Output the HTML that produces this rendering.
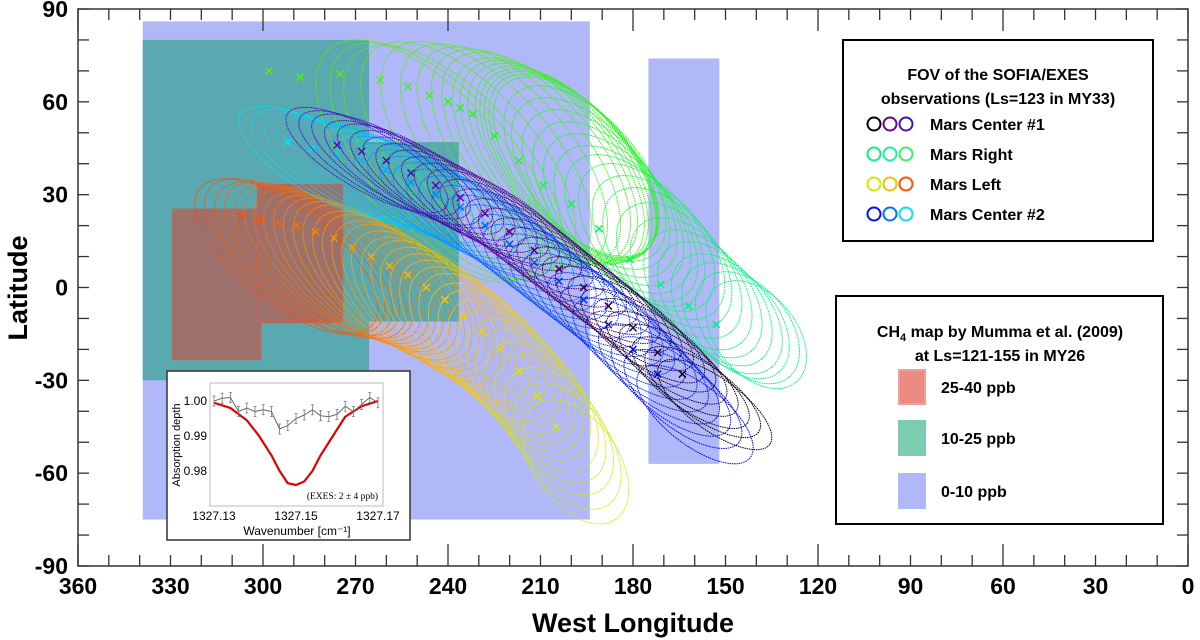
<!DOCTYPE html>
<html><head><meta charset="utf-8"><style>
body{margin:0;background:#fff}
svg{display:block;font-family:"Liberation Sans",sans-serif}
</style></head><body>
<svg id="chart" width="1200" height="640" viewBox="0 0 1200 640">
<g id="regions"></g>
<g id="fov"></g>
<g id="axes"></g>
<g id="inset"></g>
<g id="legends"></g>
</svg>
<script>
// ---- data ----
const regionLon0 = [339, 339, 265.6, 329, 301.5, 175];
const regionLon1 = [194, 265.6, 236.5, 301, 274.5, 152];
const regionLat0 = [86, 80, 47, 25, 33, 74];
const regionLat1 = [-75, -30, -11, -23, -11, -57];
const regionClass = ["low", "mid", "mid", "high", "high", "low"];

const c1Lon = [276,272,268,264,260,256,252,248,244,240,236,232,228,224,220,216,212,208,204,200,196,192,188,184,180,176,172,168,164,160];
const c1Lat = [46,45,44,42,41,39,37,35,33,31,29,27,24,21,18,15,12,9,6,3,0,-3,-6,-10,-13,-17,-21,-25,-28,-32];
const c2Lon = [292,288,284,280,276,272,268,264,260,256,252,248,244,240,236,232,228,224,220,216,212,208,204,200,196,192,188,184,180,176,172,168];
const c2Lat = [47,46,45,44,43,42,41,39,38,36,34,32,30,28,26,23,20,17,14,11,8,5,2,-1,-4,-8,-12,-16,-20,-24,-28,-33];
const rLon = [298,293,288,282,275,268,262,257,253,249,246,243,240,238,236,234,232,228,225,221,217,213,209,205,200,195,191,186,181,176,171,166,162,157,153];
const rLat = [70,69,68,69,69,68,67,66,65,63,62,61,60,59,58,57,56,53,49,45,41,37,33,30,27,23,19,14,9,5,1,-3,-6,-9,-12];
const lLon = [307,304,301,298,295,292,289,286,283,280,277,274,271,268,265,262,259,256,253,250,247,244,241,238,235,232,229,226,223,220,217,214,211,208,205];
const lLat = [23,23,22,22,21,21,20,19,18,17,16,15,13,12,10,9,7,5,4,2,0,-2,-4,-6,-9,-11,-14,-17,-20,-23,-27,-31,-35,-40,-45];

const specWn = [1327.130,1327.132,1327.134,1327.136,1327.138,1327.140,1327.142,1327.144,1327.146,1327.148,1327.150,1327.152,1327.154,1327.156,1327.158,1327.160,1327.162,1327.164,1327.166,1327.168,1327.170];
const specObs = [1.000,1.0008,1.001,0.997,0.998,0.997,0.9975,0.997,0.992,0.993,0.995,0.996,0.9975,0.9958,0.9955,0.9962,0.9985,0.997,0.999,1.001,0.9995];
const modelWn = [1327.130,1327.134,1327.138,1327.141,1327.144,1327.146,1327.148,1327.150,1327.152,1327.154,1327.156,1327.159,1327.162,1327.166,1327.170];
const modelVal = [0.9995,0.998,0.9945,0.990,0.9845,0.980,0.9765,0.976,0.977,0.980,0.9845,0.990,0.9955,0.9985,1.000];

const xTicks = [360,330,300,270,240,210,180,150,120,90,60,30,0];
const yTicks = [90,60,30,0,-30,-60,-90];

// ---- scales ----
const X = lon => 78 + (360 - lon) * 1110 / 360;
const Y = lat => 9 + (90 - lat) * 557 / 180;
const NS = "http://www.w3.org/2000/svg";
function mk(tag, attrs, parent){const e=document.createElementNS(NS,tag);for(const k in attrs)e.setAttribute(k,attrs[k]);parent.appendChild(e);return e;}

// regions
const fills = {low:"#b0b8f8", mid:"#5aa9b0", high:"#9c716b"};
const G = document.getElementById("regions");
regionLon0.forEach((l,i)=>{
  const r = mk("rect",{x:X(l),y:Y(regionLat0[i]),width:X(regionLon1[i])-X(l),height:Y(regionLat1[i])-Y(regionLat0[i]),fill:fills[regionClass[i]]},G);
  if(regionClass[i]==="high"){r.setAttribute("stroke","#b06a60");r.setAttribute("stroke-width","3");}
  
  
});

// fov tracks: shape style interpolates from start (s) to end (e) along the track
function lerpCol(cols,t){const n=cols.length-1;const s=Math.min(n-1e-9,t*n);const i=Math.floor(s),f=s-i;const a=cols[i],b=cols[i+1];return "rgb("+a.map((v,k)=>Math.round(v+(b[k]-v)*f)).join(",")+")";}
const F = document.getElementById("fov");
function track(lons,lats,cols,s,e,name,every){
  const g = mk("g",{},F);
  
  
  lons.forEach((lo,i)=>{
    const t=i/(lons.length-1), c=lerpCol(cols,t);
    const q=s.map((v,k)=>v+(e[k]-v)*t); // dx,dy,rx,ry,ang
    const cx=X(lo)+q[0], cy=Y(lats[i])+q[1];
    const el=mk("ellipse",{cx:cx,cy:cy,rx:q[2],ry:q[3],transform:`rotate(${q[4]} ${cx} ${cy})`,fill:"none",stroke:c,"stroke-width":1,"stroke-dasharray":"1.5 0.8"},g);
    
    
    if(i%every===0){
      const mx=X(lo), my=Y(lats[i]);
      const m=mk("path",{d:`M${mx-3.5} ${my-3.5}L${mx+3.5} ${my+3.5}M${mx-3.5} ${my+3.5}L${mx+3.5} ${my-3.5}`,stroke:c,"stroke-width":1.5},g);
      
      
    }
  });
}
track(lLon,lLat,[[255,70,0],[255,150,0],[255,200,0],[200,240,0]],[45,40,110,48,38],[20,35,70,42,55],"mars-left-track",2);
track(rLon,rLat,[[90,240,0],[40,245,40],[0,240,150]],[160,90,150,70,48],[40,10,62,40,50],"mars-right-track",2);
track(c2Lon,c2Lat,[[0,230,255],[0,110,255],[0,0,255]],[35,20,95,34,30],[25,25,70,30,38],"mars-center2-track",2);
track(c1Lon,c1Lat,[[60,20,200],[100,0,140],[0,0,0]],[30,15,92,30,30],[20,18,68,26,36],"mars-center1-track",2);

// axes
const A = document.getElementById("axes");
mk("rect",{x:78,y:9,width:1110,height:557,fill:"none",stroke:"#333","stroke-width":1.5},A);
for(let lon=0;lon<=360;lon+=10){
  const x=X(lon), L=(lon%60===0)?22:11;
  mk("line",{x1:x,y1:566,x2:x,y2:566-L,stroke:"#333","stroke-width":1.3},A);
  mk("line",{x1:x,y1:9,x2:x,y2:9+L,stroke:"#333","stroke-width":1.3},A);
}
for(let lat=-90;lat<=90;lat+=10){
  const y=Y(lat), L=11;
  mk("line",{x1:78,y1:y,x2:78+L,y2:y,stroke:"#333","stroke-width":1.3},A);
  mk("line",{x1:1188,y1:y,x2:1188-L,y2:y,stroke:"#333","stroke-width":1.3},A);
}
xTicks.forEach(v=>{const t=mk("text",{x:X(v),y:594,"text-anchor":"middle","font-size":23,"font-weight":"bold"},A);t.textContent=v;
  
  });
yTicks.forEach(v=>{const t=mk("text",{x:68,y:Y(v)+8,"text-anchor":"end","font-size":23,"font-weight":"bold"},A);t.textContent=v;
  
  });

let t=mk("text",{x:633,y:632,"text-anchor":"middle","font-size":27,"font-weight":"bold"},A);t.textContent="West Longitude";


t=mk("text",{x:0,y:0,"text-anchor":"middle","font-size":27,"font-weight":"bold",transform:"translate(27,288) rotate(-90)"},A);t.textContent="Latitude";



// inset
const I=document.getElementById("inset");
mk("rect",{x:167,y:371,width:243,height:169,fill:"#fff",stroke:"#333","stroke-width":1.5},I);
const ix=w=>214+(w-1327.13)*(378-214)/0.04;
const iy=v=>401+(1.0-v)*3500;
mk("rect",{x:210,y:383,width:173,height:123,fill:"none",stroke:"#aaa","stroke-width":0.8},I);
[1.00,0.99,0.98].forEach(v=>{const tt=mk("text",{x:207,y:iy(v)+4,"text-anchor":"end","font-size":12},I);tt.textContent=v.toFixed(2);
  
  });
[1327.13,1327.15,1327.17].forEach(v=>{const tt=mk("text",{x:ix(v),y:520,"text-anchor":"middle","font-size":12},I);tt.textContent=v.toFixed(2);
  
  });
t=mk("text",{x:297,y:535,"text-anchor":"middle","font-size":12},I);t.textContent="Wavenumber [cm⁻¹]";


t=mk("text",{x:0,y:0,"text-anchor":"middle","font-size":11,transform:"translate(180,445) rotate(-90)"},I);t.textContent="Absorption depth";


t=mk("text",{x:378,y:499,"text-anchor":"end","font-size":9.5,"font-family":"Liberation Serif,serif"},I);t.textContent="(EXES: 2 ± 4 ppb)";


let p=mk("polyline",{points:modelWn.map((w,i)=>ix(w)+","+iy(modelVal[i])).join(" "),fill:"none",stroke:"#e00000","stroke-width":2.2},I);


p=mk("polyline",{points:specWn.map((w,i)=>ix(w)+","+iy(specObs[i])).join(" "),fill:"none",stroke:"#666","stroke-width":1},I);


specWn.forEach((w,i)=>{const x=ix(w),y=iy(specObs[i]);const e=mk("path",{d:`M${x} ${y-5}V${y+5}M${x-1.5} ${y-5}h3M${x-1.5} ${y+5}h3`,stroke:"#777","stroke-width":0.8,fill:"none"},I);
  
  });

// legends
const L=document.getElementById("legends");
const l1=mk("g",{},L);


mk("rect",{x:843,y:40,width:310,height:201,fill:"#fff",stroke:"#000","stroke-width":2},l1);
[["FOV of the SOFIA/EXES",80],["observations (Ls=123 in MY33)",104]].forEach(a=>{const tt=mk("text",{x:998,y:a[1],"text-anchor":"middle","font-size":16,"font-weight":"bold"},l1);tt.textContent=a[0];
  
  });
const ents=[["Mars Center #1",["#000","#6a0090","#3a10c8"]],["Mars Right",["#10f080","#20f0a0","#40f060"]],["Mars Left",["#c8f000","#f0c000","#ff5000"]],["Mars Center #2",["#0010f0","#0070ff","#00e0ff"]]];
ents.forEach((e,i)=>{const y=124+i*30;
  e[1].forEach((c,k)=>mk("circle",{cx:874+k*16,cy:y,r:6.5,fill:"none",stroke:c,"stroke-width":2},l1));
  const tt=mk("text",{x:930,y:y+6,"font-size":16,"font-weight":"bold"},l1);tt.textContent=e[0];
  
  });
const l2=mk("g",{},L);


mk("rect",{x:836,y:296,width:327,height:228,fill:"#fff",stroke:"#000","stroke-width":2},l2);
t=mk("text",{x:1000,y:337,"text-anchor":"middle","font-size":16,"font-weight":"bold"},l2);
t.innerHTML='CH<tspan font-size="11" dy="4">4</tspan><tspan dy="-4"> map by Mumma et al. (2009)</tspan>';


t=mk("text",{x:1000,y:361,"text-anchor":"middle","font-size":16,"font-weight":"bold"},l2);t.textContent="at Ls=121-155 in MY26";


[["25-40 ppb","#ea8a80","#f0a098",370],["10-25 ppb","#7ccdb0","#7ccdb0",421],["0-10 ppb","#b0b8f8","#b0b8f8",474]].forEach(a=>{
  mk("rect",{x:899,y:a[3],width:26,height:34,fill:a[1],stroke:a[2],"stroke-width":2},l2);
  const tt=mk("text",{x:941,y:a[3]+23,"font-size":16,"font-weight":"bold"},l2);tt.textContent=a[0];
  
  });
</script>
</body></html>
